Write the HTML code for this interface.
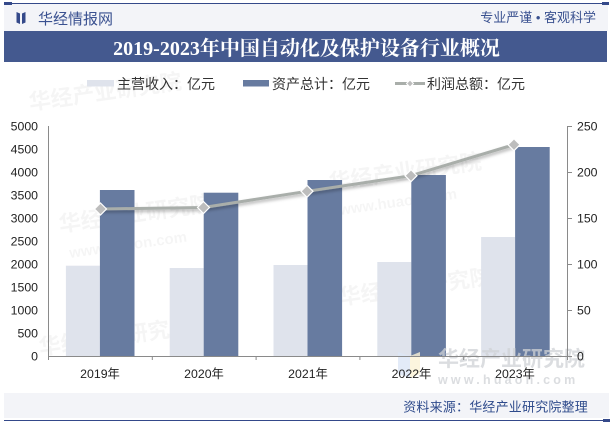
<!DOCTYPE html>
<html><head><meta charset="utf-8"><style>
html,body{margin:0;padding:0;background:#fff;}
svg{display:block;}
.s{font-family:"Liberation Sans","Noto Sans CJK SC",sans-serif;}
</style></head><body>
<svg width="614" height="423" viewBox="0 0 614 423" xmlns="http://www.w3.org/2000/svg">
<defs>
<filter id="sh" x="-10%" y="-50%" width="120%" height="200%">
<feDropShadow dx="1" dy="2" stdDeviation="1.5" flood-color="#000" flood-opacity="0.3"/>
</filter>
</defs>
<rect width="614" height="423" fill="#fff"/>
<!-- header -->
<rect x="4" y="4" width="604" height="27" fill="#f3f4f8"/>
<line x1="4" y1="3.5" x2="609" y2="3.5" stroke="#34498a" stroke-width="1"/>
<rect x="4" y="2" width="8" height="3" fill="#34498a"/>
<rect x="602" y="2" width="7" height="3" fill="#34498a"/>
<path d="M16.5 12 L20 13.5 L20 24 L16.5 22.5 Z" fill="#34498a"/>
<path d="M22 13.5 L25.5 12 L25.5 22.5 L22 24 Z" fill="#34498a"/>
<text x="38" y="24" class="s" font-size="15" fill="#3a5190">华经情报网</text>
<text x="596" y="22" class="s" font-size="13" fill="#3a5190" text-anchor="end">专业严谨 • 客观科学</text>
<!-- title bar -->
<rect x="4" y="31" width="603" height="31" fill="#44598f"/>
<text x="306.5" y="55" font-family="'Liberation Serif','Noto Serif CJK SC',serif" font-weight="bold" font-size="20" fill="#fff" text-anchor="middle">2019-2023年中国自动化及保护设备行业概况</text>
<!-- watermarks faint -->
<g class="s" font-weight="bold" fill="#000" opacity="0.035">
<text x="60" y="232" font-size="22" transform="rotate(-8 60 232)">华经产业研究院</text>
<text x="70" y="258" font-size="15" transform="rotate(-8 70 258)">www.huaon.com</text>
<text x="330" y="190" font-size="22" transform="rotate(-8 330 190)">华经产业研究院</text>
<text x="340" y="215" font-size="15" transform="rotate(-8 340 215)">www.huaon.com</text>
<text x="40" y="355" font-size="22" transform="rotate(-8 40 355)">华经产业研究院</text>
<text x="340" y="305" font-size="22" transform="rotate(-8 340 305)">华经产业研究院</text>
<text x="30" y="110" font-size="22" transform="rotate(-8 30 110)">华经产业研究院</text>
</g>
<!-- bars -->
<g>
<rect x="65.9" y="265.7" width="34" height="90.3" fill="#dfe3ec"/>
<rect x="99.9" y="190" width="34.6" height="166" fill="#677ba0"/>
<rect x="169.7" y="268" width="34" height="88" fill="#dfe3ec"/>
<rect x="203.7" y="192.7" width="34.6" height="163.3" fill="#677ba0"/>
<rect x="273.5" y="265" width="34" height="91" fill="#dfe3ec"/>
<rect x="307.5" y="180" width="34.6" height="176" fill="#677ba0"/>
<rect x="377.3" y="262" width="34" height="94" fill="#dfe3ec"/>
<rect x="411.3" y="175" width="34.6" height="181" fill="#677ba0"/>
<rect x="481.1" y="237" width="34" height="119" fill="#dfe3ec"/>
<rect x="515.1" y="147" width="34.6" height="209" fill="#677ba0"/>
</g>
<!-- watermark bottom right -->
<g class="s" font-weight="bold" fill="#cfd2d6" opacity="0.75">
<text x="438" y="366" font-size="21">华经产业研究院</text>
<text x="438" y="384" font-size="12.5" letter-spacing="3.2">www.huaon.com</text>
</g>
<path d="M398 352 L410 356 L410 378 L398 374 Z" fill="#dce6f6" opacity="0.8"/>
<path d="M410 356 L420 352 L420 374 L410 378 Z" fill="#fbf3d6" opacity="0.8"/>
<!-- axes -->
<g stroke="#8a8a8a" stroke-width="1" fill="none">
<line x1="48.5" y1="126" x2="48.5" y2="356"/>
<line x1="567.5" y1="126" x2="567.5" y2="356"/>
<line x1="48" y1="356.5" x2="568" y2="356.5"/>
<line x1="48.5" y1="356" x2="48.5" y2="360"/>
<line x1="152.3" y1="356" x2="152.3" y2="360"/>
<line x1="256.1" y1="356" x2="256.1" y2="360"/>
<line x1="359.9" y1="356" x2="359.9" y2="360"/>
<line x1="463.7" y1="356" x2="463.7" y2="360"/>
<line x1="567.5" y1="356" x2="567.5" y2="360"/>
<line x1="567" y1="126.5" x2="572" y2="126.5"/>
<line x1="567" y1="172.5" x2="572" y2="172.5"/>
<line x1="567" y1="218.5" x2="572" y2="218.5"/>
<line x1="567" y1="264.5" x2="572" y2="264.5"/>
<line x1="567" y1="310.5" x2="572" y2="310.5"/>
<line x1="567" y1="356.5" x2="572" y2="356.5"/>
</g>
<g class="s" font-size="12.3" fill="#222" text-anchor="end">
<text x="38" y="130.5">5000</text>
<text x="38" y="153.5">4500</text>
<text x="38" y="176.5">4000</text>
<text x="38" y="199.5">3500</text>
<text x="38" y="222.5">3000</text>
<text x="38" y="245.5">2500</text>
<text x="38" y="268.5">2000</text>
<text x="38" y="291.5">1500</text>
<text x="38" y="314.5">1000</text>
<text x="38" y="337.5">500</text>
<text x="38" y="360.5">0</text>
</g>
<g class="s" font-size="12.3" fill="#222">
<text x="577" y="130.5">250</text>
<text x="577" y="176.5">200</text>
<text x="577" y="222.5">150</text>
<text x="577" y="268.5">100</text>
<text x="577" y="314.5">50</text>
<text x="577" y="360.5">0</text>
</g>
<g class="s" font-size="12.3" fill="#222" text-anchor="middle">
<text x="100" y="378">2019年</text>
<text x="204" y="378">2020年</text>
<text x="308" y="378">2021年</text>
<text x="411.5" y="378">2022年</text>
<text x="515" y="378">2023年</text>
</g>
<!-- line -->
<polyline points="100.5,209 203.5,207.5 307,191.3 411,175.7 514,144.7" fill="none" stroke="#a9aeaa" stroke-width="3" filter="url(#sh)"/>
<g fill="#bdbdbd" stroke="#fff" stroke-width="1.2">
<path d="M100.5 203 L106.5 209 L100.5 215 L94.5 209 Z"/>
<path d="M203.5 201.5 L209.5 207.5 L203.5 213.5 L197.5 207.5 Z"/>
<path d="M307 185.3 L313 191.3 L307 197.3 L301 191.3 Z"/>
<path d="M411 169.7 L417 175.7 L411 181.7 L405 175.7 Z"/>
<path d="M514 138.7 L520 144.7 L514 150.7 L508 144.7 Z"/>
</g>
<!-- legend -->
<rect x="87" y="80" width="27" height="6.5" fill="#dfe3ec"/>
<text x="117" y="89" class="s" font-size="14" fill="#333">主营收入：亿元</text>
<rect x="243" y="80" width="26" height="6.5" fill="#677ba0"/>
<text x="272" y="89" class="s" font-size="14" fill="#333">资产总计：亿元</text>
<line x1="395" y1="83.5" x2="425" y2="83.5" stroke="#a9aeaa" stroke-width="3"/>
<path d="M410 80 L413.5 83.5 L410 87 L406.5 83.5 Z" fill="#bdbdbd" stroke="#fff" stroke-width="1"/>
<text x="427" y="89" class="s" font-size="14" fill="#333">利润总额：亿元</text>
<!-- footer -->
<rect x="4" y="393" width="605" height="25" fill="#f3f4f8"/>
<text x="588" y="411.5" class="s" font-size="13" fill="#2f4b8c" text-anchor="end" letter-spacing="0.2">资料来源：华经产业研究院整理</text>
<line x1="4" y1="420.5" x2="609" y2="420.5" stroke="#34498a" stroke-width="1"/>
<rect x="603" y="419" width="7" height="3" fill="#34498a"/>
</svg>
</body></html>
